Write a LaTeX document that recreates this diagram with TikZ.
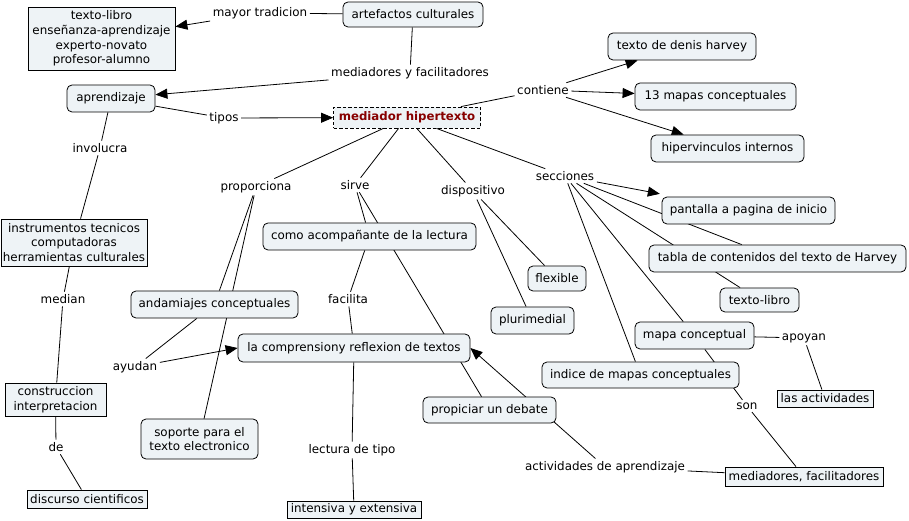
\documentclass[tikz,border=0pt]{standalone}
\usepackage{fontspec}
\setmainfont{DejaVu Sans}
\usetikzlibrary{arrows.meta}
\definecolor{cfill}{RGB}{238,243,246}
\definecolor{hred}{RGB}{135,0,0}
\pgfdeclarelayer{bg}
\pgfsetlayers{bg,main}
\begin{document}
\begin{tikzpicture}[x=1bp,y=-1bp,
  font=\fontsize{11.95}{14.7}\selectfont,
  every node/.style={inner sep=0pt, align=center},
  cpt/.style={draw, fill=cfill, rounded corners=5bp, line width=0.8bp},
  sq/.style={draw, fill=cfill, line width=0.8bp},
  lbl/.style={inner sep=2.5bp},
  con/.style={line width=0.8bp},
  arr/.style={line width=0.8bp, -{Triangle[length=12bp,width=10bp]}}]
\useasboundingbox (0,0) rectangle (909,521);

% concepts
\node[sq, minimum width=147bp, minimum height=63bp] (box1) at (101.5,38.5) {texto-libro\\enseñanza-aprendizaje\\experto-novato\\profesor-alumno};
\node[cpt, minimum width=140bp, minimum height=25bp] (art) at (413,14.5) {artefactos culturales};
\node[cpt, minimum width=88bp, minimum height=27bp] (apr) at (111,98.5) {aprendizaje};
\node[draw, fill=cfill, dash pattern=on 3.5bp off 2bp, line width=0.8bp, minimum width=147bp, minimum height=21bp, text=hred, font=\fontsize{11.8}{14.6}\selectfont\bfseries] (med) at (407,117.5) {mediador hipertexto};
\node[cpt, minimum width=148bp, minimum height=27bp] (tdh) at (682,46.5) {texto de denis harvey};
\node[cpt, minimum width=161bp, minimum height=27bp] (m13) at (715.5,96.5) {13 mapas conceptuales};
\node[cpt, minimum width=153bp, minimum height=27bp] (hip) at (727.5,148.5) {hipervinculos internos};
\node[sq, minimum width=146bp, minimum height=47bp] (ins) at (74,242.5) {instrumentos tecnicos\\computadoras\\herramientas culturales};
\node[sq, minimum width=101bp, minimum height=33bp] (cons) at (55.5,399.5) {construccion\\interpretacion};
\node[sq, minimum width=120bp, minimum height=18bp] (dis) at (87,499) {discurso cientificos};
\node[cpt, minimum width=167bp, minimum height=27bp] (and) at (214.5,304.5) {andamiajes conceptuales};
\node[cpt, minimum width=117bp, minimum height=40bp] (sop) at (199.5,439) {soporte para el\\texto electronico};
\node[cpt, minimum width=232bp, minimum height=28bp] (com) at (354,348) {la comprensiony reflexion de textos};
\node[cpt, minimum width=213bp, minimum height=27bp] (como) at (369.5,236.5) {como acompañante de la lectura};
\node[cpt, minimum width=58bp, minimum height=25bp] (flex) at (557,278.5) {flexible};
\node[cpt, minimum width=83bp, minimum height=27bp] (plu) at (532.5,320.5) {plurimedial};
\node[cpt, minimum width=173bp, minimum height=27bp] (pan) at (748.5,210.5) {pantalla a pagina de inicio};
\node[cpt, minimum width=257bp, minimum height=27bp] (tab) at (777.5,258.5) {tabla de contenidos del texto de Harvey};
\node[cpt, minimum width=79bp, minimum height=24bp] (tl2) at (759.5,300) {texto-libro};
\node[cpt, minimum width=119bp, minimum height=27bp] (map) at (694.5,335.5) {mapa conceptual};
\node[cpt, minimum width=197bp, minimum height=26bp] (ind) at (640.5,375) {indice de mapas conceptuales};
\node[sq, minimum width=96bp, minimum height=17bp] (act) at (825,398.5) {las actividades};
\node[sq, minimum width=158bp, minimum height=19bp] (mf) at (804,476.5) {mediadores, facilitadores};
\node[cpt, minimum width=133bp, minimum height=26bp] (pro) at (489.5,410) {propiciar un debate};
\node[sq, minimum width=134bp, minimum height=17bp] (int) at (354,509.5) {intensiva y extensiva};

% link labels
\node[lbl] (lmt) at (260,13) {mayor tradicion};
\node[lbl] (lmf) at (410,73) {mediadores y facilitadores};
\node[lbl] (ltip) at (224,118) {tipos};
\node[lbl] (lcont) at (543,90) {contiene};
\node[lbl] (linv) at (100,148) {involucra};
\node[lbl] (lmdn) at (63,299) {median};
\node[lbl] (lde) at (56,447) {de};
\node[lbl] (lprop) at (256,187) {proporciona};
\node[lbl] (lay) at (135,367) {ayudan};
\node[lbl] (lsir) at (355,185) {sirve};
\node[lbl] (lfac) at (348,299) {facilita};
\node[lbl] (ldis) at (473,191) {dispositivo};
\node[lbl] (lsec) at (565,176) {secciones};
\node[lbl] (lapo) at (804,338) {apoyan};
\node[lbl] (lson) at (747,406) {son};
\node[lbl] (lact) at (605,467) {actividades de aprendizaje};
\node[lbl] (llec) at (352,450) {lectura de tipo};

\begin{pgfonlayer}{bg}
\draw[con] (art) -- (lmt);
\draw[arr] (lmt) -- (box1);
\draw[con] (art) -- (lmf);
\draw[arr] (lmf) -- (apr);
\draw[con] (apr) -- (ltip);
\draw[arr] (ltip) -- (med);
\draw[con] (med) -- (lcont);
\draw[arr] (lcont) -- (tdh);
\draw[arr] (lcont) -- (m13);
\draw[arr] (lcont) -- (hip);
\draw[con] (apr) -- (linv);
\draw[con] (linv) -- (ins);
\draw[con] (ins) -- (lmdn);
\draw[con] (lmdn) -- (cons);
\draw[con] (cons) -- (lde);
\draw[con] (lde) -- (dis);
\draw[con] (med) -- (lprop);
\draw[con] (lprop) -- (and);
\draw[con] (lprop) -- (sop);
\draw[con] (and) -- (lay);
\draw[arr] (lay) -- (com.west);
\draw[con] (med) -- (lsir);
\draw[con] (lsir) -- (como);
\draw[con] (lsir) -- (pro);
\draw[con] (como) -- (lfac);
\draw[con] (lfac) -- (com);
\draw[con] (com) -- (llec);
\draw[con] (llec) -- (int);
\draw[con] (med) -- (ldis);
\draw[con] (ldis) -- (flex);
\draw[con] (ldis) -- (plu);
\draw[con] (med) -- (lsec);
\draw[arr, shorten >=15bp] (lsec) -- (pan);
\draw[con] (lsec) -- (tab);
\draw[con] (lsec) -- (tl2);
\draw[con] (lsec) -- (map);
\draw[con] (lsec) -- (ind);
\draw[con] (map) -- (lapo);
\draw[con] (lapo) -- (act);
\draw[con] (map) -- (lson);
\draw[con] (lson) -- (mf);
\draw[con] (mf) -- (lact);
\draw[arr] (lact) -- (com.east);
\end{pgfonlayer}
\end{tikzpicture}
\end{document}
